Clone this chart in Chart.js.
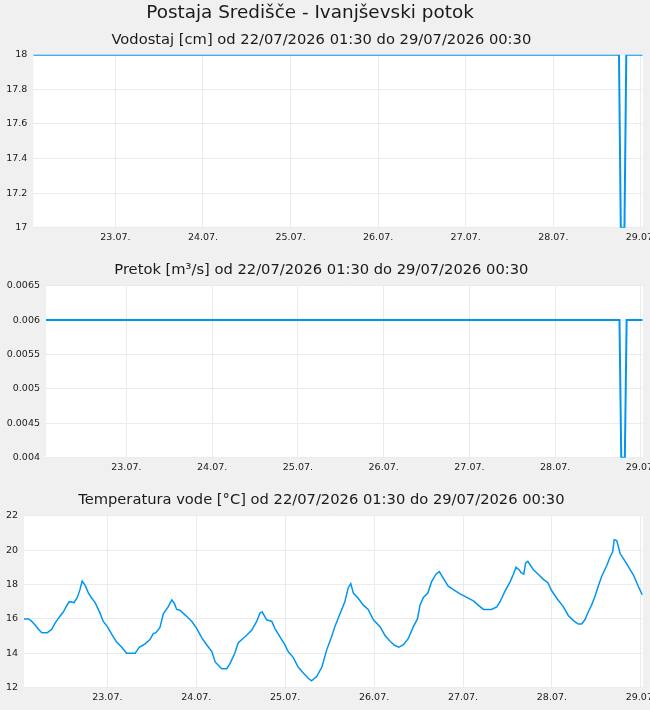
<!DOCTYPE html>
<html>
<head>
<meta charset="utf-8">
<script src="https://cdn.jsdelivr.net/npm/chart.js@4/dist/chart.umd.min.js"></script>
<style>
  html, body { margin: 0; padding: 0; background: #f0f0f0; overflow: hidden; width: 650px; height: 710px; }
  canvas { position: absolute; left: 0; }
  #mainTitle {
    position: absolute; left: 0; top: 3.4px; width: 620px; text-align: center;
    font: 18.4px/18.4px 'DejaVu Sans', sans-serif; color: #1a1a1a; white-space: nowrap; z-index: 2;
  }
</style>
</head>
<body>
<canvas id="levelChart" width="665" height="250" style="top:0"></canvas>
<canvas id="flowChart" width="665" height="230" style="top:250px"></canvas>
<canvas id="tempChart" width="665" height="230" style="top:480px"></canvas>
<div id="mainTitle">Postaja Središče - Ivanjševski potok</div>
<script>
// x axis runs in hours counted from 22.07. 00:00
const X_MIN = 1.5;    // 22/07 01:30
const X_MAX = 168.5;  // 29/07 00:30
const dayTicks = [24, 48, 72, 96, 120, 144, 168];
const dayLabels = ["23.07.", "24.07.", "25.07.", "26.07.", "27.07.", "28.07.", "29.07."];

// Vodostaj [cm]
const levelHours = [1.5, 162.0, 162.5, 163.5, 164.0, 168.5];
const levelValues = [18, 18, 17, 17, 18, 18];

// Pretok [m3/s]
const flowHours = [1.5, 162.0, 162.5, 163.5, 164.0, 168.5];
const flowValues = [0.006, 0.006, 0.004, 0.004, 0.006, 0.006];

// Temperatura vode [°C]
const tempHours = [
  1.5, 2.7, 3.4, 4.5, 5.4, 6.3, 7.8, 9.0, 9.9, 11.0, 12.1, 13.0, 13.7, 15.0, 15.9, 16.6, 17.2, 18.0,
  18.9, 19.8, 20.7, 22.0, 22.9, 24.0, 25.2, 26.5, 27.9, 29.2, 31.5, 32.6, 34.2, 35.5, 36.4, 37.1,
  38.2, 39.1, 40.4, 41.4, 42.1, 42.7, 43.6, 45.4, 46.8, 48.1, 49.5, 50.8, 52.2, 53.1, 54.4, 54.9,
  56.2, 57.1, 58.4, 59.3, 60.3, 61.6, 63.0, 64.3, 65.2, 65.8, 67.0, 68.4, 69.2, 70.6, 71.9, 72.8,
  74.2, 75.5, 76.9, 78.2, 79.1, 80.5, 81.9, 83.2, 84.5, 85.4, 86.8, 88.1, 89.0, 89.7, 90.4, 91.7,
  93.1, 94.4, 95.8, 97.6, 98.9, 100.3, 101.6, 102.7, 103.9, 105.2, 106.6, 107.7, 108.4, 109.3,
  110.5, 111.5, 112.7, 113.6, 114.7, 116.0, 117.4, 119.2, 121.0, 122.8, 124.1, 125.5, 127.7, 129.1,
  130.0, 131.3, 132.7, 133.6, 134.3, 135.2, 135.6, 136.4, 136.9, 137.5, 138.1, 139.0, 140.3, 141.7,
  142.9, 143.9, 145.3, 147.1, 148.4, 149.8, 151.1, 152.0, 152.9, 153.8, 154.7, 155.6, 156.5, 157.4,
  158.8, 159.7, 160.4, 160.8, 161.5, 162.4, 163.3, 164.6, 166.0, 167.3, 168.4,
];
const tempValues = [
  16.0, 16.0, 15.9, 15.65, 15.4, 15.2, 15.2, 15.4, 15.75, 16.1, 16.4, 16.75, 17.0, 16.95, 17.25, 17.7, 18.2, 17.95,
  17.5, 17.2, 16.95, 16.35, 15.85, 15.55, 15.1, 14.65, 14.35, 14.0, 14.0, 14.35, 14.55, 14.8, 15.15, 15.2,
  15.5, 16.3, 16.7, 17.1, 16.9, 16.55, 16.5, 16.15, 15.85, 15.45, 14.9, 14.5, 14.1, 13.5, 13.2, 13.1,
  13.1, 13.4, 14.0, 14.6, 14.8, 15.05, 15.35, 15.85, 16.35, 16.4, 15.95, 15.85, 15.45, 14.95, 14.5, 14.1,
  13.75, 13.2, 12.85, 12.55, 12.4, 12.65, 13.2, 14.2, 14.95, 15.55, 16.3, 17.0, 17.8, 18.05, 17.5, 17.2,
  16.8, 16.55, 15.95, 15.55, 15.05, 14.7, 14.45, 14.35, 14.5, 14.85, 15.55, 16.0, 16.8, 17.25,
  17.5, 18.15, 18.6, 18.75, 18.35, 17.9, 17.7, 17.45, 17.25, 17.05, 16.8, 16.55, 16.55, 16.7,
  17.0, 17.6, 18.15, 18.6, 19.0, 18.85, 18.7, 18.6, 19.25, 19.35, 19.15, 18.85, 18.6, 18.3,
  18.1, 17.65, 17.2, 16.7, 16.2, 15.9, 15.7, 15.7, 15.95, 16.4, 16.8, 17.3, 17.9, 18.45,
  19.1, 19.6, 19.9, 20.6, 20.55, 19.8, 19.5, 19.05, 18.55, 17.9, 17.4,
];

const FONT = "'DejaVu Sans', sans-serif";
const LINE = "#0096f0";
const GRID = "#ebebeb";
const TEXT = "#1a1a1a";
const PLOT_RIGHT = 642.7;  // page is 650 wide, canvas 665 so the last day label can spill off

Chart.defaults.font.family = FONT;
Chart.defaults.color = TEXT;

const plotBackground = {
  id: "plotBackground",
  beforeDraw(chart) {
    const { ctx, chartArea: a } = chart;
    ctx.save();
    ctx.fillStyle = "#ffffff";
    ctx.fillRect(a.left, a.top, a.right - a.left, a.bottom - a.top);
    ctx.restore();
  },
};

// Chart.js centres title text in its line box; pad the box so the text centre sits at centreY.
function titleOpts(text, size, centreY, boxTop, boxBottom) {
  const lh = size * 1.2;
  return {
    display: true,
    text,
    color: TEXT,
    font: { family: FONT, size, weight: "normal", lineHeight: 1.2 },
    padding: { top: centreY - lh / 2 - boxTop, bottom: boxBottom - (centreY + lh / 2) },
  };
}

function points(xs, ys) {
  return xs.map((x, i) => ({ x, y: ys[i] }));
}

function makeChart(id, cfg) {
  const canvas = document.getElementById(id);
  return new Chart(canvas, {
    type: "line",
    data: {
      datasets: [{
        data: points(cfg.hours, cfg.values),
        borderColor: LINE, borderWidth: cfg.lineWidth,
        pointRadius: 0, tension: 0, fill: false,
      }],
    },
    options: {
      responsive: false,
      animation: false,
      events: [],
      layout: { padding: { left: 0, top: 0, right: canvas.width - PLOT_RIGHT, bottom: canvas.height - cfg.plotBottom - 16 } },
      scales: {
        x: {
          type: "linear", min: X_MIN, max: X_MAX,
          afterBuildTicks: (s) => { s.ticks = dayTicks.map((v) => ({ value: v })); },
          afterFit: (s) => { s.height = 16; },
          ticks: { callback: (v, i) => dayLabels[i], padding: 4.5, maxRotation: 0, autoSkip: false, font: { size: 9.5 }, color: TEXT },
          grid: { color: GRID, drawTicks: false },
          border: { display: false },
        },
        y: {
          min: cfg.yMin, max: cfg.yMax,
          afterFit: (s) => { s.width = cfg.axisWidth; },
          ticks: { stepSize: cfg.yStep, padding: 6, font: { size: 9.5 }, color: TEXT,
                   callback: (v) => String(Number(v.toFixed(4))) },
          grid: { color: GRID, drawTicks: false },
          border: { display: false },
        },
      },
      plugins: {
        legend: { display: false },
        tooltip: { enabled: false },
        title: cfg.title,
      },
    },
    plugins: [plotBackground],
  });
}

makeChart("levelChart", {
  hours: levelHours, values: levelValues, lineWidth: 2,
  yMin: 17, yMax: 18, yStep: 0.2, axisWidth: 33.3, plotBottom: 227.7,
  title: titleOpts("Vodostaj [cm] od 22/07/2026 01:30 do 29/07/2026 00:30", 14.7, 39.7, 0, 54.7),
});

makeChart("flowChart", {
  hours: flowHours, values: flowValues, lineWidth: 2,
  yMin: 0.004, yMax: 0.0065, yStep: 0.0005, axisWidth: 46, plotBottom: 207.7,
  title: titleOpts("Pretok [m³/s] od 22/07/2026 01:30 do 29/07/2026 00:30", 14.7, 20, 0, 35.7),
});

makeChart("tempChart", {
  hours: tempHours, values: tempValues, lineWidth: 1.5,
  yMin: 12, yMax: 22, yStep: 2, axisWidth: 24, plotBottom: 207.7,
  title: titleOpts("Temperatura vode [°C] od 22/07/2026 01:30 do 29/07/2026 00:30", 14.7, 19.7, 0, 35.7),
});
</script>
</body>
</html>
